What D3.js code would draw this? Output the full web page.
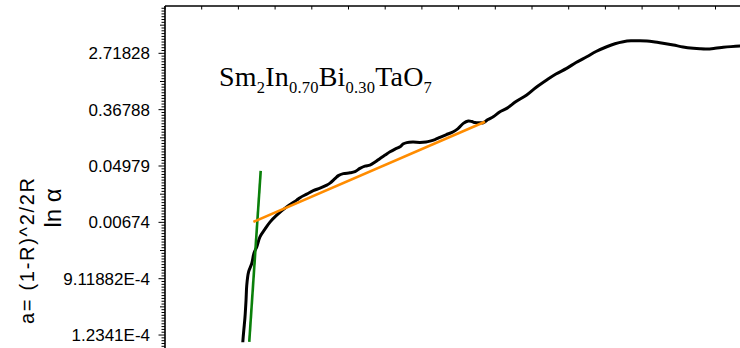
<!DOCTYPE html>
<html><head><meta charset="utf-8">
<script src="https://cdn.jsdelivr.net/npm/d3@7/dist/d3.min.js"></script>
<style>html,body{margin:0;padding:0;background:#fff;overflow:hidden}</style>
</head><body>
<svg id="c" width="740" height="348"></svg>
<script>
// photon energy (eV) and ln(alpha)
const energy = [2.030,2.033,2.040,2.045,2.052,2.057,2.069,2.091,2.106,2.125,2.147,2.181,2.215,2.261,2.329,2.397,2.420,2.465,2.510,2.556,2.602,2.624,2.658,2.681,2.715,2.760,2.794,2.828,2.862,2.896,2.931,2.965,2.999,3.033,3.067,3.101,3.121,3.147,3.189,3.237,3.278,3.305,3.339,3.373,3.414,3.464,3.496,3.532,3.566,3.591,3.612,3.646,3.668,3.700,3.736,3.782,3.828,3.891,3.964,4.027,4.100,4.163,4.236,4.300,4.373,4.436,4.509,4.565,4.622,4.674,4.736,4.783,4.826,4.892,4.963,5.029,5.099,5.144,5.190,5.247,5.303,5.356,5.417,5.499];
const lnAlpha = [-9.256,-9.043,-8.652,-8.357,-7.764,-7.231,-6.769,-6.460,-6.094,-5.870,-5.515,-5.242,-4.993,-4.744,-4.449,-4.211,-4.123,-3.998,-3.874,-3.785,-3.678,-3.607,-3.448,-3.341,-3.270,-3.242,-3.199,-3.085,-3.004,-2.968,-2.861,-2.730,-2.613,-2.496,-2.400,-2.318,-2.222,-2.169,-2.151,-2.162,-2.144,-2.115,-2.062,-1.984,-1.892,-1.785,-1.671,-1.487,-1.405,-1.423,-1.458,-1.465,-1.465,-1.352,-1.252,-1.075,-0.954,-0.712,-0.481,-0.215,0.052,0.265,0.467,0.673,0.879,1.064,1.234,1.341,1.412,1.444,1.448,1.437,1.412,1.359,1.295,1.224,1.178,1.160,1.153,1.178,1.213,1.238,1.259,1.277];
// fitted lines
const greenFitE = [2.152, 2.074];
const greenFitLn = [-3.171, -9.245];
const orangeFitE = [2.102, 3.680];
const orangeFitLn = [-4.982, -1.430];
// y ticks (ln values) and labels
const yMajor = [1, -1, -3, -5, -7, -9];
const yLabels = ["2.71828", "0.36788", "0.04979", "0.00674", "9.11882E-4", "1.2341E-4"];
const xDomain = [1.5, 5.5];
const yDomain = [-9.46, 2.68];

const svg = d3.select("#c");
const L = 165, T = 6, R = 752.2, B = 348;
const x = d3.scaleLinear().domain(xDomain).range([L, R]);
const y = d3.scaleLinear().domain(yDomain).range([B, T]);

svg.append("defs").append("clipPath").attr("id","clip")
  .append("rect").attr("x",L).attr("y",T).attr("width",R-L).attr("height",B-T);

const g = svg.append("g").attr("clip-path","url(#clip)");
const line = d3.line().x(d=>x(d[0])).y(d=>y(d[1])).curve(d3.curveCatmullRom);
g.append("path").datum(energy.map((e,i)=>[e,lnAlpha[i]]))
  .attr("d", line).attr("fill","none").attr("stroke","#000").attr("stroke-width",3)
  .attr("stroke-linejoin","round");
const sline = d3.line().x(d=>x(d[0])).y(d=>y(d[1]));
g.append("path").datum(greenFitE.map((e,i)=>[e,greenFitLn[i]]))
  .attr("d", sline).attr("stroke","#0a800a").attr("stroke-width",2.6).attr("fill","none");
g.append("path").datum(orangeFitE.map((e,i)=>[e,orangeFitLn[i]]))
  .attr("d", sline).attr("stroke","#ff8c00").attr("stroke-width",2.6).attr("fill","none");

// left axis
const minor = d3.range(-95, 27).map(v=>v/10);
const ax = svg.append("g");
ax.selectAll("line.mn").data(minor).enter().append("line")
  .attr("x1", d => {const r=Math.round(d*10); if (r%20===10||r%20===-10) return L-6.5; if (r%10===0) return L-5; return L-3.5;})
  .attr("x2", L).attr("y1", d=>y(d)).attr("y2", d=>y(d))
  .attr("stroke","#000").attr("stroke-width",1);
ax.append("line").attr("x1",L).attr("x2",L).attr("y1",T).attr("y2",B).attr("stroke","#000").attr("stroke-width",1.6);
ax.selectAll("text.yl").data(yMajor).enter().append("text")
  .attr("x", 150).attr("y", d=>y(d)).attr("dy","0.36em").attr("text-anchor","end")
  .attr("font-family","Liberation Sans, Arial, sans-serif").attr("font-size",17)
  .text((d,i)=>yLabels[i]);

// top axis
const topTicks = d3.range(1.5, 5.51, 0.25);
svg.append("line").attr("x1",L).attr("x2",R).attr("y1",T).attr("y2",T).attr("stroke","#000").attr("stroke-width",1.6);
svg.selectAll("line.tt").data(topTicks).enter().append("line")
  .attr("x1",d=>x(d)).attr("x2",d=>x(d)).attr("y1",T).attr("y2",T+3.5)
  .attr("stroke","#000").attr("stroke-width",1);

// axis titles
svg.append("text").attr("transform","translate(34,251) rotate(-90)")
  .attr("text-anchor","middle").attr("font-family","Liberation Sans, Arial, sans-serif")
  .attr("font-size",20).attr("textLength",146).attr("lengthAdjust","spacing").text("a= (1-R)^2/2R");
svg.append("text").attr("transform","translate(61,208) rotate(-90)")
  .attr("text-anchor","middle").attr("font-family","Liberation Sans, Arial, sans-serif")
  .attr("font-size",24).text("ln α");

// compound label
const t = svg.append("text").attr("x",219).attr("y",86)
  .attr("font-family","Liberation Serif, Times New Roman, serif").attr("font-size",28)
  .attr("letter-spacing",0.2);
const parts = [["Sm",0],["2",1],["In",0],["0.70",1],["Bi",0],["0.30",1],["TaO",0],["7",1]];
parts.forEach((p,i)=>{
  const prevSub = i>0 && parts[i-1][1];
  const s = t.append("tspan").text(p[0]).attr("dy", p[1] ? 7 : (prevSub ? -7 : 0));
  if (p[1]) s.attr("font-size",16.5);
});
</script>
</body></html>
